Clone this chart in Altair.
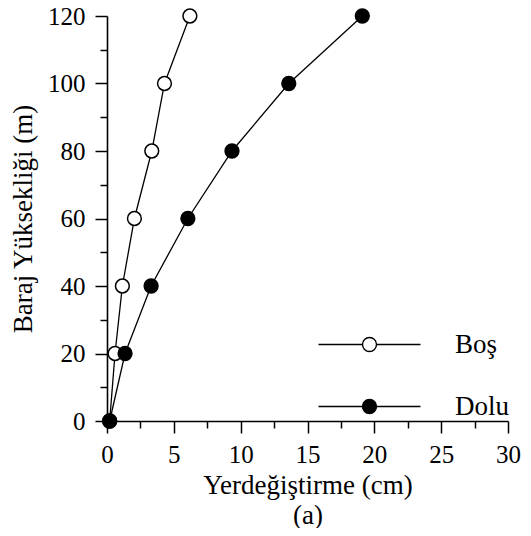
import altair as alt
import pandas as pd

heights = [0, 20, 40, 60, 80, 100, 120]
bos = [0.2, 0.6, 1.15, 2.05, 3.35, 4.3, 6.2]
dolu = [0.2, 1.35, 3.3, 6.05, 9.35, 13.6, 19.1]
series_names = ["Boş", "Dolu"]
x_ticks = [0, 2.5, 5, 7.5, 10, 12.5, 15, 17.5, 20, 22.5, 25, 27.5, 30]
y_ticks = [0, 10, 20, 30, 40, 50, 60, 70, 80, 90, 100, 110, 120]

rows = []
for h, b, d in zip(heights, bos, dolu):
    rows.append({"series": series_names[0], "height": h, "disp": b})
    rows.append({"series": series_names[1], "height": h, "disp": d})
df = pd.DataFrame(rows)

FONT = "Liberation Serif"
FS_LABEL = 25
FS_TITLE = 27

x_enc = alt.X(
    "disp:Q",
    scale=alt.Scale(domain=[0, 30], nice=False, zero=False),
    axis=alt.Axis(
        values=x_ticks,
        labelExpr="datum.value % 5 === 0 ? datum.label : ''",
        tickSize={"condition": {"test": "datum.value % 5 === 0", "value": 12}, "value": 7},
        title=["Yerdeğiştirme (cm)", "(a)"],
        titleLineHeight=30,
        labelPadding=9,
        titlePadding=5,
        labelOverlap=False,
        labelFlush=False,
    ),
)
y_enc = alt.Y(
    "height:Q",
    scale=alt.Scale(domain=[0, 120], nice=False),
    axis=alt.Axis(
        values=y_ticks,
        labelExpr="datum.value % 20 === 0 ? datum.label : ''",
        tickSize={"condition": {"test": "datum.value % 20 === 0", "value": 12}, "value": 7},
        title="Baraj Yüksekliği (m)",
        labelPadding=10,
        titlePadding=10,
        labelOverlap=False,
        labelFlush=False,
    ),
)

legend_path = "M-5.1,0H-0.7M0.7,0H5.1M-0.7,0A0.7,0.7,0,1,0,0.7,0A0.7,0.7,0,1,0,-0.7,0Z"

base = alt.Chart(df)
lines = base.mark_line(color="black", strokeWidth=1.3).encode(
    x=x_enc, y=y_enc, detail="series:N", order="height:Q"
)
points = base.mark_circle(size=190, opacity=1, stroke="black", strokeWidth=1.5).encode(
    x=x_enc,
    y=y_enc,
    fill=alt.Fill(
        "series:N",
        scale=alt.Scale(domain=series_names, range=["white", "black"]),
        legend=alt.Legend(
            orient="none",
            legendX=249,
            legendY=315,
            title=None,
            symbolType=legend_path,
            symbolSize=400,
            symbolStrokeColor="black",
            symbolStrokeWidth=1.4,
            symbolOpacity=1,
            labelFont=FONT,
            labelFontSize=FS_TITLE,
            labelColor="black",
            labelOffset=72,
            rowPadding=34,
            padding=0,
        ),
    ),
)

chart = (
    (lines + points)
    .properties(
        width=401,
        height=405,
        autosize=alt.AutoSizeParams(type="none"),
        padding={"left": 99, "top": 8, "right": 15, "bottom": 107},
    )
    .configure_view(stroke=None)
    .configure_axis(
        grid=False,
        domainColor="black",
        domainWidth=1.6,
        tickColor="black",
        tickWidth=1.5,
        labelFont=FONT,
        labelFontSize=FS_LABEL,
        labelColor="black",
        titleFont=FONT,
        titleFontSize=FS_TITLE,
        titleFontWeight="normal",
        titleColor="black",
    )
)

chart.save("out.html", embed_options={"renderer": "svg", "actions": False})
